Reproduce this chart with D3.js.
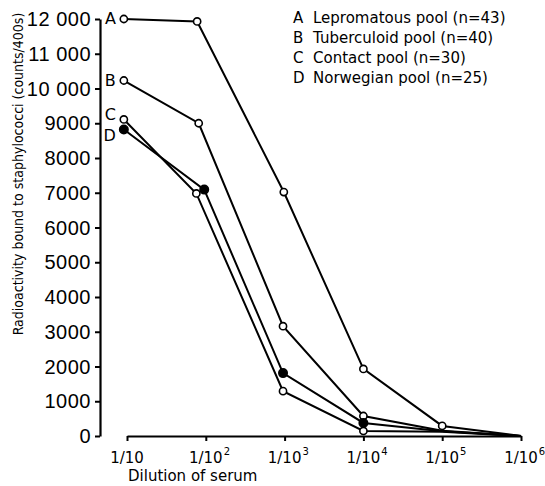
<!DOCTYPE html>
<html>
<head>
<meta charset="utf-8">
<script src="https://cdn.jsdelivr.net/npm/d3@7"></script>
<style>
  body { margin: 0; background: #fff; }
  text { font-family: "DejaVu Sans", sans-serif; fill: #000; }
</style>
</head>
<body>
<svg id="chart"></svg>
<script>
// dilution exponents (1/10^n) used as x ticks
var tickExp = [1, 2, 3, 4, 5, 6];
var yTicks = [0, 1000, 2000, 3000, 4000, 5000, 6000, 7000, 8000, 9000, 10000, 11000, 12000];
var yTickLabels = ["0", "1000", "2000", "3000", "4000", "5000", "6000", "7000", "8000", "9000", "10 000", "11 000", "12 000"];

// series, x read as exponent of the dilution
var namesA = "Lepromatous pool (n=43)";
var xA = [0.96, 1.89, 2.99, 4.0, 5.0, 6.0];
var yA = [12000, 11930, 7020, 1930, 290, 0];

var namesB = "Tuberculoid pool (n=40)";
var xB = [0.96, 1.91, 2.98, 4.0, 5.0, 6.0];
var yB = [10230, 9000, 3160, 575, 150, 0];

var namesC = "Contact pool (n=30)";
var xC = [0.96, 1.88, 2.98, 4.0, 5.0, 6.0];
var yC = [9110, 6980, 1290, 145, 120, 0];

var namesD = "Norwegian pool (n=25)";
var xD = [0.96, 1.98, 2.98, 4.0, 5.0, 6.0];
var yD = [8820, 7090, 1810, 375, 140, 0];

var series = [
    {key: "A", name: namesA, xs: xA, ys: yA, filled: false, marked: 5},
    {key: "B", name: namesB, xs: xB, ys: yB, filled: false, marked: 4},
    {key: "C", name: namesC, xs: xC, ys: yC, filled: false, marked: 4},
    {key: "D", name: namesD, xs: xD, ys: yD, filled: true, marked: 4}
];

var width = 545,
    height = 486;

var svg = d3.select("#chart")
    .attr("width", width)
    .attr("height", height);

var x = d3.scaleLinear().domain([1, 6]).range([127, 521]);
var y = d3.scaleLinear().domain([0, 12000]).range([436, 19]);

// y axis
var yAxis = svg.append("g")
    .attr("transform", "translate(100,0)")
    .call(d3.axisLeft(y).tickValues(yTicks).tickSize(5).tickSizeOuter(0).tickFormat(""));
yAxis.select(".domain").attr("stroke-width", 2.2).attr("stroke", "#000");
yAxis.selectAll(".tick line").attr("stroke-width", 2).attr("stroke", "#000");

svg.selectAll(".ylab")
    .data(yTicks)
    .enter().append("text")
    .attr("class", "ylab")
    .attr("x", 91)
    .attr("y", function(d){ return y(d) + 7; })
    .attr("text-anchor", "end")
    .style("font-family", "'Liberation Sans', sans-serif")
    .style("font-size", "20px")
    .style("letter-spacing", "0.5px")
    .text(function(d, i){ return yTickLabels[i]; });

// x axis
var xAxis = svg.append("g")
    .attr("transform", "translate(0,436)")
    .call(d3.axisBottom(x).tickValues(tickExp).tickSize(5).tickSizeOuter(0).tickFormat(""));
xAxis.select(".domain").attr("stroke-width", 2).attr("stroke", "#000");
xAxis.selectAll(".tick line").attr("stroke-width", 2).attr("stroke", "#000");

tickExp.forEach(function(e){
    var t = svg.append("text")
        .attr("x", x(e))
        .attr("y", 463)
        .attr("text-anchor", "middle")
        .style("font-size", "15px")
        .text("1/10");
    if(e > 1){
        var w = t.node().getComputedTextLength();
        svg.append("text")
            .attr("x", x(e) + w/2 + 1)
            .attr("y", 455)
            .style("font-size", "10px")
            .text(e);
    }
});

svg.append("text")
    .attr("x", 128)
    .attr("y", 481)
    .style("font-size", "15px")
    .text("Dilution of serum");

// y title: shrink font until it fits the span of the axis
var ytitle = svg.append("text")
    .attr("transform", "translate(23,174) rotate(-90)")
    .attr("text-anchor", "middle")
    .style("font-family", "'DejaVu Sans Condensed', 'DejaVu Sans', sans-serif")
    .text("Radioactivity bound to staphylococci (counts/400s)");
var fs = 16;
ytitle.style("font-size", fs + "px");
while(ytitle.node().getComputedTextLength() > 330 && fs > 9){
    fs -= 0.5;
    ytitle.style("font-size", fs + "px");
}

// lines
var line = d3.line()
    .x(function(d){ return x(d[0]); })
    .y(function(d){ return y(d[1]); });

series.forEach(function(s){
    var pts = s.xs.map(function(v, i){ return [v, s.ys[i]]; });
    s.pts = pts;
    svg.append("path")
        .attr("d", line(pts))
        .attr("fill", "none")
        .attr("stroke", "#000")
        .attr("stroke-width", 2);
});

series.forEach(function(s){
    svg.selectAll(".pt" + s.key)
        .data(s.pts.slice(0, s.marked))
        .enter().append("circle")
        .attr("cx", function(d){ return x(d[0]); })
        .attr("cy", function(d){ return y(d[1]); })
        .attr("r", function(){ return s.filled ? 4.2 : 3.6; })
        .attr("fill", s.filled ? "#000" : "#fff")
        .attr("stroke", "#000")
        .attr("stroke-width", 1.6);
    // letter next to first point
    svg.append("text")
        .attr("x", x(s.xs[0]) - 8)
        .attr("y", y(s.ys[0]) + (s.key == "D" ? 11 : (s.key == "C" ? 1 : 5)))
        .attr("text-anchor", "end")
        .style("font-size", "16px")
        .text(s.key);
});

// legend
var legend = svg.append("g");
series.forEach(function(s, i){
    legend.append("text")
        .attr("x", 293)
        .attr("y", 23 + i*20)
        .style("font-size", "15px")
        .text(s.key);
    legend.append("text")
        .attr("x", 313)
        .attr("y", 23 + i*20)
        .style("font-size", "15px")
        .text(s.name);
});
</script>
</body>
</html>
